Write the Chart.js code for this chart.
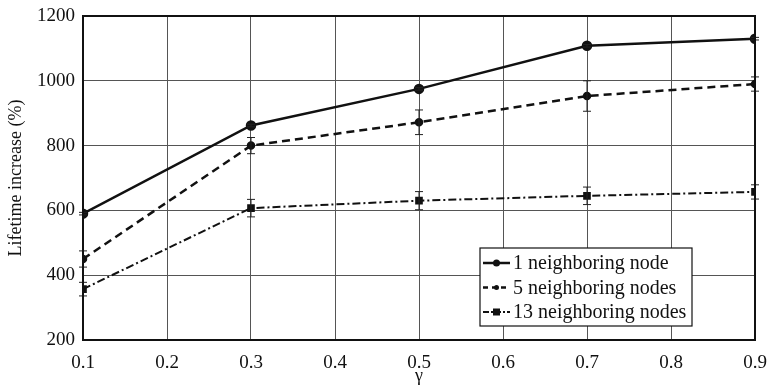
<!DOCTYPE html>
<html><head><meta charset="utf-8">
<script src="https://cdn.jsdelivr.net/npm/chart.js@4/dist/chart.umd.min.js"></script>
<style>html,body{margin:0;padding:0;background:#fff}#wrap{width:767px;height:385px}</style>
</head><body><div id="wrap"><canvas id="c" width="767" height="385"></canvas></div>
<script>
const gammas = [0.1, 0.3, 0.5, 0.7, 0.9];
const labels = ["1 neighboring node", "5 neighboring nodes", "13 neighboring nodes"];
const s1 = [590, 862, 975, 1108, 1130];
const s2 = [450, 800, 872, 953, 990];
const s3 = [357, 607, 630, 645, 657];
const e1 = [4, 4, 4, 4, 4];
const e2 = [25, 25, 38, 47, 22];
const e3 = [21, 27, 28, 27, 22];
const yTicks = [200, 400, 600, 800, 1000, 1200];

const FONT = "'Liberation Serif', 'DejaVu Serif', serif";
const pts = (arr) => gammas.map((g, i) => ({x: g, y: arr[i]}));

const errPlugin = {
  id: 'err',
  afterDatasetsDraw(chart) {
    const ctx = chart.ctx, xs = chart.scales.x, ys = chart.scales.y;
    const errs = [e1, e2, e3];
    ctx.save();
    ctx.strokeStyle = '#222'; ctx.lineWidth = 1;
    chart.data.datasets.forEach((ds, di) => {
      ds.data.forEach((p, i) => {
        const x = xs.getPixelForValue(p.x);
        const yt = ys.getPixelForValue(p.y + errs[di][i]);
        const yb = ys.getPixelForValue(p.y - errs[di][i]);
        ctx.beginPath();
        ctx.moveTo(x, yt); ctx.lineTo(x, yb);
        ctx.moveTo(x - 4, yt); ctx.lineTo(x + 4, yt);
        ctx.moveTo(x - 4, yb); ctx.lineTo(x + 4, yb);
        ctx.stroke();
      });
    });
    const a = chart.chartArea;
    ctx.strokeStyle = '#111'; ctx.lineWidth = 2;
    ctx.strokeRect(a.left, a.top, a.right - a.left, a.bottom - a.top);
    ctx.restore();
  }
};

const legendPlugin = {
  id: 'customLegend',
  afterDraw(chart) {
    const ctx = chart.ctx;
    const bx = 480, by = 248, bw = 212, bh = 78;
    ctx.save();
    ctx.fillStyle = '#fff';
    ctx.fillRect(bx, by, bw, bh);
    ctx.strokeStyle = '#111'; ctx.lineWidth = 1.2;
    ctx.strokeRect(bx, by, bw, bh);
    ctx.font = "20px " + FONT;
    ctx.textBaseline = 'middle';
    chart.data.datasets.forEach((ds, i) => {
      const y = by + 15 + i * 24.5;
      ctx.strokeStyle = '#111';
      ctx.lineWidth = ds.borderWidth;
      ctx.setLineDash(i === 0 ? [] : (i === 1 ? [5, 4] : [6, 2, 2, 2]));
      ctx.beginPath(); ctx.moveTo(bx + 3, y); ctx.lineTo(bx + 30, y); ctx.stroke();
      ctx.setLineDash([]);
      ctx.fillStyle = '#111';
      if (ds.pointStyle === 'rect') {
        ctx.fillRect(bx + 16.5 - 3.5, y - 3.5, 7, 7);
      } else {
        ctx.beginPath(); ctx.arc(bx + 16.5, y, ds.pointRadius - 0.5, 0, Math.PI * 2); ctx.fill();
      }
      ctx.fillText(ds.label, bx + 33, y + 1);
    });
    ctx.restore();
  }
};

new Chart(document.getElementById('c'), {
  type: 'line',
  data: {
    datasets: [
      {label: labels[0], data: pts(s1), borderColor: '#111', backgroundColor: '#111', borderWidth: 2.5,
       pointStyle: 'circle', pointRadius: 4, tension: 0},
      {label: labels[1], data: pts(s2), borderColor: '#111', backgroundColor: '#111', borderWidth: 2.5,
       borderDash: [8, 5], pointStyle: 'circle', pointRadius: 3, tension: 0},
      {label: labels[2], data: pts(s3), borderColor: '#111', backgroundColor: '#111', borderWidth: 2,
       borderDash: [8, 3, 2, 3], pointStyle: 'rect', pointRadius: 4, tension: 0}
    ]
  },
  options: {
    responsive: false, animation: false,
    layout: {padding: 0},
    plugins: {legend: {display: false}, tooltip: {enabled: false}},
    scales: {
      x: {
        type: 'linear', min: 0.1, max: 0.9,
        afterFit(s) { s.height = 45; s.paddingLeft = 0; s.paddingRight = 12; },
        ticks: {stepSize: 0.1, color: '#111', font: {family: FONT, size: 19}, padding: 12,
                maxRotation: 0, autoSkip: false, callback: v => v.toFixed(1)},
        grid: {color: '#555', lineWidth: 1, tickLength: 0, drawTicks: false},
        border: {color: '#111', width: 2},
        title: {display: true, text: 'γ', color: '#111', font: {family: FONT, size: 18, lineHeight: 1}, padding: {top: 0, bottom: 0}}
      },
      y: {
        min: 200, max: 1200,
        afterFit(s) { s.width = 83; s.paddingTop = 16; s.paddingBottom = 0; },
        afterBuildTicks(s) { s.ticks = yTicks.map(v => ({value: v})); },
        ticks: {color: '#111', font: {family: FONT, size: 19}, padding: 8, callback: v => String(v)},
        grid: {color: '#555', lineWidth: 1, drawTicks: false},
        border: {color: '#111', width: 2},
        title: {display: true, text: 'Lifetime increase (%)', color: '#111', font: {family: FONT, size: 18}, padding: {top: 5, bottom: 0}}
      }
    }
  },
  plugins: [errPlugin, legendPlugin]
});
</script></body></html>
